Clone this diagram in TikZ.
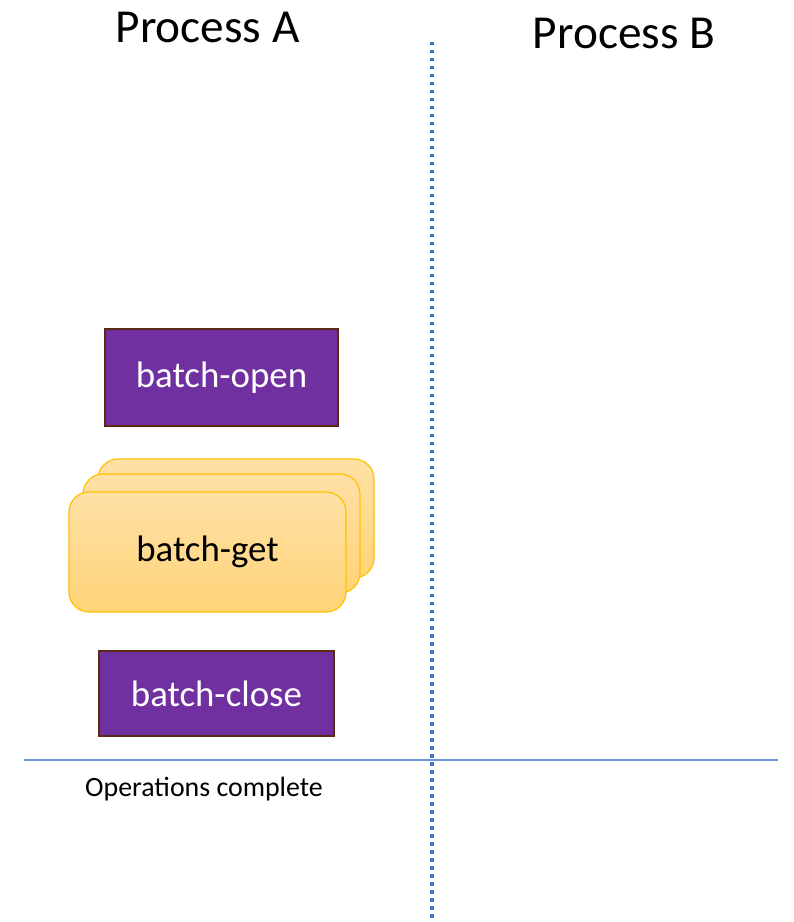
\documentclass[tikz,border=0pt]{standalone}
\usepackage{fontspec}
\setmainfont{Carlito}
\definecolor{opfill}{HTML}{7030A0}
\definecolor{opedge}{HTML}{5C2A12}
\definecolor{getedge}{HTML}{FFC000}
\definecolor{gettop}{HTML}{FFE1A6}
\definecolor{getbot}{HTML}{FFD477}
\definecolor{lane}{HTML}{4472C4}
\definecolor{rule}{HTML}{6E92D4}
\tikzset{
  x=1bp, y=1bp,
  opbox/.style={draw=opedge, line width=2bp, fill=opfill, text=white,
    font=\fontsize{37}{40}\selectfont, inner sep=0pt},
  getbox/.style={draw=getedge, line width=1.2bp, rounded corners=20bp,
    top color=gettop, bottom color=getbot, inner sep=0pt},
  title/.style={font=\fontsize{47.5}{52}\selectfont},
}
\begin{document}
\begin{tikzpicture}
\useasboundingbox (0,0) rectangle (794,922);
\fill[white] (0,0) rectangle (794,922);

% lane divider and completion rule
\coordinate (laneTop) at (432,880);
\coordinate (laneBot) at (432,0);
\draw[lane, line width=3.5bp, dash pattern=on 3.5bp off 4.5bp] (laneTop) -- (laneBot);
\coordinate (ruleL) at (24,162);
\coordinate (ruleR) at (778,162);
\draw[rule, line width=1.3bp] (ruleL) -- (ruleR);

% column titles
\node[title] (pa) at (207.5,894) {Process A};
\node[title] (pb) at (624,888) {Process B};

% operations
\node[opbox, minimum width=233bp, minimum height=97bp] (open) at (221.5,544.5) {\raisebox{-2bp}{batch-open}};

\path[getbox] (98,463) rectangle (374,344);
\path[getbox] (83,448) rectangle (360,329);
\node[getbox, minimum width=277bp, minimum height=120bp, font=\fontsize{37}{40}\selectfont] (get) at (207.5,370) {\raisebox{-2bp}{batch-get}};

\node[opbox, minimum width=235bp, minimum height=85bp] (close) at (216.5,228.5) {batch-close};

\node[font=\fontsize{28}{30}\selectfont] (done) at (204,133) {Operations complete};
\end{tikzpicture}
\end{document}
